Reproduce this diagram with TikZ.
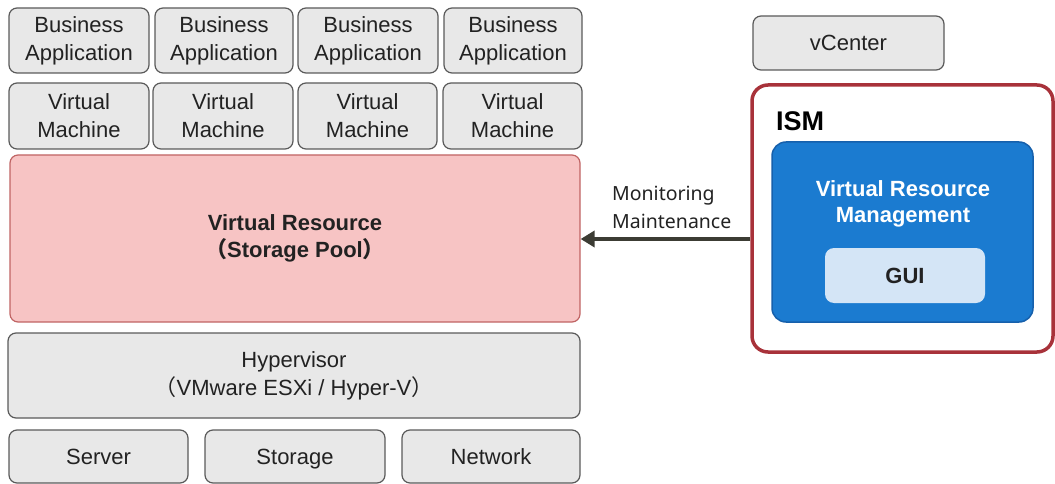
\documentclass[tikz,border=0pt]{standalone}
\usepackage{fontspec}
\setmainfont{Liberation Sans}
\newfontfamily\cjk{Noto Sans CJK JP}
\newfontfamily\monfont{Noto Sans}
\usetikzlibrary{arrows.meta}
\definecolor{gfill}{HTML}{E8E8E8}
\definecolor{gdraw}{HTML}{5A5A5A}
\definecolor{txt}{HTML}{222222}
\definecolor{pfill}{HTML}{F7C4C4}
\definecolor{pdraw}{HTML}{C06464}
\definecolor{ismred}{HTML}{A8323A}
\definecolor{bfill}{HTML}{1B7BD0}
\definecolor{bdraw}{HTML}{1660AC}
\definecolor{guifill}{HTML}{D4E5F6}
\definecolor{arrowc}{HTML}{3C3C34}
\tikzset{
  base/.style={rounded corners=8pt, inner sep=0pt, align=center, text=txt,
    font=\fontsize{22}{28}\selectfont},
  gbox/.style={base, draw=gdraw, fill=gfill, line width=1.2pt},
  oneline/.style={text height=19pt, text depth=3pt},
  pbox/.style={base, draw=pdraw, fill=pfill, line width=1.2pt,
    font=\fontsize{22}{27}\selectfont\bfseries},
  ismbox/.style={rounded corners=16pt, draw=ismred, line width=3.5pt, fill=white, inner sep=0pt},
  bluebox/.style={rounded corners=14pt, draw=bdraw, fill=bfill, line width=1.5pt, inner sep=0pt},
  guibox/.style={base, rounded corners=9pt, fill=guifill, draw=none,
    font=\fontsize{22}{26}\selectfont\bfseries},
  flow/.style={draw=arrowc, line width=3.5pt, -{Triangle[length=14pt,width=16pt]}},
  sz/.style 2 args={minimum width=#1pt, minimum height=#2pt}
}
\begin{document}
\begin{tikzpicture}[x=1pt,y=-1pt]
\useasboundingbox (0,0) rectangle (1055,484);
% Business applications
\node[gbox, sz={140}{65}] (ba1) at (79,40.5) {Business\\Application};
\node[gbox, sz={138}{65}] (ba2) at (224,40.5) {Business\\Application};
\node[gbox, sz={140}{65}] (ba3) at (368,40.5) {Business\\Application};
\node[gbox, sz={138}{65}] (ba4) at (513,40.5) {Business\\Application};
% Virtual machines
\node[gbox, sz={140}{66}] (vm1) at (79,116) {Virtual\\Machine};
\node[gbox, sz={140}{66}] (vm2) at (223,116) {Virtual\\Machine};
\node[gbox, sz={139}{66}] (vm3) at (367.5,116) {Virtual\\Machine};
\node[gbox, sz={139}{66}] (vm4) at (512.5,116) {Virtual\\Machine};
% Virtual resource
\node[pbox, sz={570}{167}] (vr) at (295,238.5) {Virtual Resource\\{\cjk （}Storage Pool{\cjk ）}};
% Hypervisor
\node[gbox, sz={572}{85}] (hyp) at (294,375.5) {Hypervisor\\{\cjk （}VMware ESXi / Hyper-V{\cjk ）}};
% Hardware
\node[gbox, oneline, sz={179}{53}] (srv) at (98.5,456.5) {Server};
\node[gbox, oneline, sz={180}{53}] (sto) at (295,456.5) {Storage};
\node[gbox, oneline, sz={178}{53}] (net) at (491,456.5) {Network};
% vCenter
\node[gbox, oneline, sz={191}{54}] (vc) at (848.5,43) {vCenter};
% ISM
\node[ismbox, sz={301}{267}] (ism) at (902.5,218.5) {};
\node[anchor=west, inner sep=0pt, font=\fontsize{27}{27}\selectfont\bfseries, text=black] (ismlabel) at (776,121) {ISM};
\node[bluebox, sz={261}{180}] (vrm) at (902.5,232) {};
\node[align=center, inner sep=0pt, text=white, font=\fontsize{22}{26}\selectfont\bfseries] (vrmtext) at (903,204) {Virtual Resource\\Management};
\node[guibox, oneline, sz={160}{55}] (gui) at (905,275.5) {GUI};
% Arrow
\coordinate (ay) at (0,239);
\draw[flow] (ism.west |- ay) -- (vr.east |- ay);
\node[anchor=west, align=left, inner sep=0pt, text=txt, font=\monfont\fontsize{19.5}{28}\selectfont] (mon) at (612,207) {Monitoring\\Maintenance};
\end{tikzpicture}
\end{document}
